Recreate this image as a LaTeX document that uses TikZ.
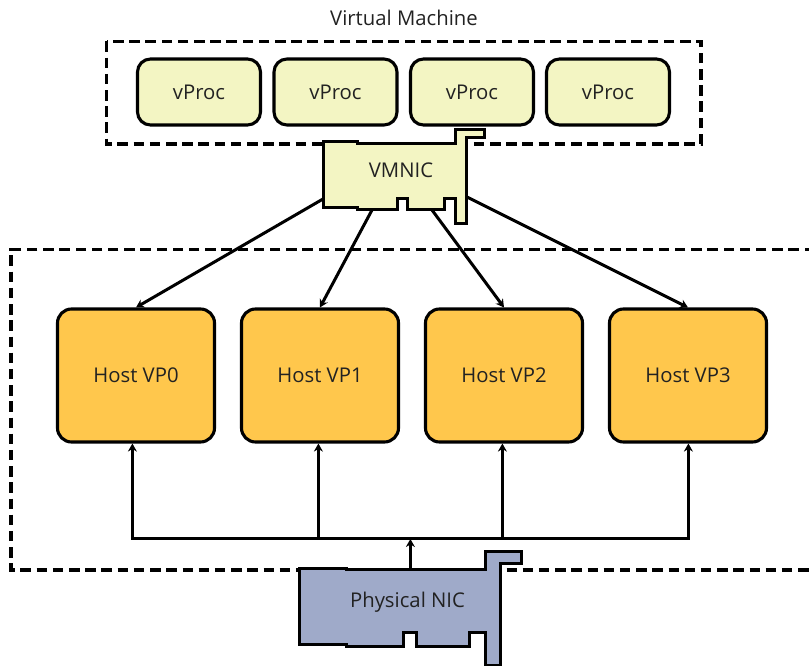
\documentclass[tikz,border=0pt]{standalone}
\usepackage{fontspec}
\setmainfont{Open Sans}
\usetikzlibrary{arrows.meta}
\definecolor{paleyellow}{HTML}{F3F5C3}
\definecolor{hostorange}{HTML}{FFC74C}
\definecolor{nicblue}{HTML}{9FAAC9}
\definecolor{inktext}{HTML}{222222}
\tikzset{
  x=1pt,y=-1pt,
  lbl/.style={text=inktext,font=\fontsize{20.3}{22}\selectfont,inner sep=0pt},
  zone/.style={draw=black,line width=3.3pt,dash pattern=on 10.5pt off 5.7pt},
  procbox/.style={draw=black,line width=3.1pt,rounded corners=13pt,fill=paleyellow,minimum width=123pt,minimum height=66pt,text=inktext,font=\fontsize{20.3}{22}\selectfont,inner sep=0pt},
  hostbox/.style={draw=black,line width=3.1pt,rounded corners=14pt,fill=hostorange,minimum width=157pt,minimum height=133pt,text=inktext,font=\fontsize{20.3}{22}\selectfont,inner sep=0pt},
  card/.style={draw=black,line width=3pt,line join=miter},
  link/.style={draw=black,line width=3pt,-{Stealth[length=8pt,width=9pt]}},
  uplink/.style={draw=black,line width=3.2pt,-{Stealth[length=8pt,width=9pt]}},
  bus/.style={draw=black,line width=3.2pt},
}
\begin{document}
\begin{tikzpicture}
\useasboundingbox (0,0) rectangle (809,666);
% dashed zones
\draw[zone] (106.5,41.5) rectangle (701,144);
\draw[zone] (815,249.5) -- (11,249.5) -- (11,570) -- (815,570);
% vProcs
\node[procbox] (p0) at (199,92) {vProc};
\node[procbox] (p1) at (335.5,92) {vProc};
\node[procbox] (p2) at (472,92) {vProc};
\node[procbox] (p3) at (608,92) {vProc};
\node[lbl] (vm) at (404,18) {Virtual Machine};
% VMNIC card
\draw[card,fill=paleyellow] (323,142) -- (357,142) -- (357,143.5) -- (455,143.5) -- (455,129.5) -- (484,129.5) -- (484,138) -- (466,138) -- (466,223) -- (455,223) -- (455,199) -- (444,199) -- (444,209) -- (407,209) -- (407,199) -- (397,199) -- (397,209) -- (357,209) -- (357,207) -- (323,207) -- cycle;
\node[lbl] (vmnic) at (401,170) {VMNIC};
% Hosts
\node[hostbox] (h0) at (136,375.5) {Host VP0};
\node[hostbox] (h1) at (320,375.5) {Host VP1};
\node[hostbox] (h2) at (504,375.5) {Host VP2};
\node[hostbox] (h3) at (688,375.5) {Host VP3};
% Connector ends on the cards and the bus
\coordinate (v0) at (323,199);
\coordinate (v1) at (372,210);
\coordinate (v2) at (432,210);
\coordinate (v3) at (467,197);
\draw[link] (v0) -- (h0.north);
\draw[link] (v1) -- (h1.north);
\draw[link] (v2) -- (h2.north);
\draw[link] (v3) -- (h3.north);
% Bus
\coordinate (b0) at (132.4,538.4);
\coordinate (b1) at (318.4,538.4);
\coordinate (b2) at (502.4,538.4);
\coordinate (b3) at (688.4,538.4);
\coordinate (bm) at (410.4,539);
\draw[bus,line cap=rect] (b0) -- (b3);
\draw[uplink] (b0) -- (b0 |- h0.south);
\draw[uplink] (b1) -- (b1 |- h1.south);
\draw[uplink] (b2) -- (b2 |- h2.south);
\draw[uplink] (b3) -- (b3 |- h3.south);
% Physical NIC card
\draw[card,fill=nicblue] (299,568) -- (346,568) -- (346,569.5) -- (485,569.5) -- (485,551) -- (521,551) -- (521,563) -- (500,563) -- (500,665) -- (485,665) -- (485,632) -- (469,632) -- (469,646) -- (416,646) -- (416,632) -- (403,632) -- (403,646) -- (346,646) -- (346,644) -- (299,644) -- cycle;
\node[lbl] (nic) at (407.5,602) {Physical NIC};
\coordinate (nictop) at (410.4,569);
\draw[uplink] (nictop) -- (bm);
\end{tikzpicture}
\end{document}
